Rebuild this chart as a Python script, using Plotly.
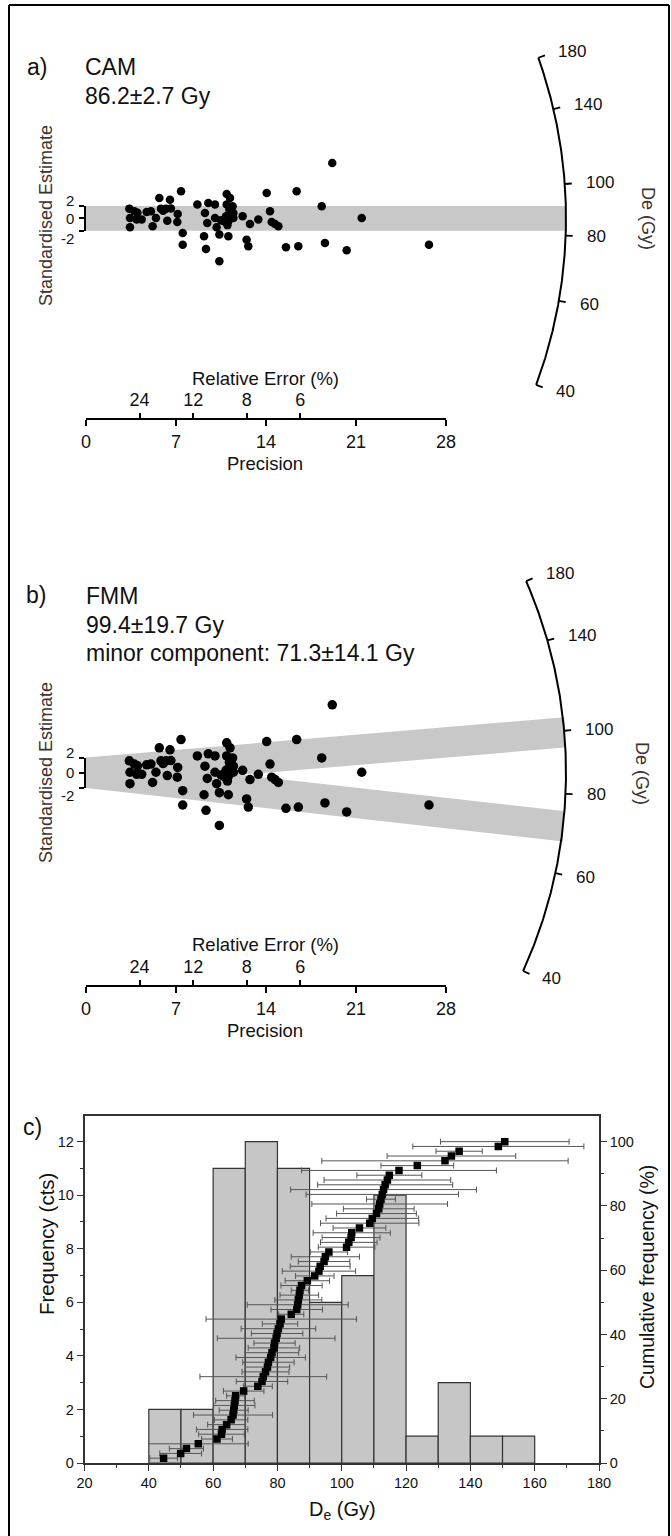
import numpy as np
import plotly.graph_objects as go

W, H = 671, 1536
FONT = "Liberation Sans, Arial, sans-serif"

# ---------------- data ----------------
# Radial plot points (shared by panels a and b): precision and standardised estimate
precision = [3.37, 3.42, 3.42, 3.76, 3.94, 4.33, 4.72, 5.05, 5.18, 5.44,
             5.70, 5.83, 6.22, 6.32, 6.53, 7.13, 7.10, 7.39, 7.52, 7.52,
             8.66, 9.25, 9.18, 9.33, 9.51, 9.43, 10.03, 10.03, 10.16, 10.37,
             10.37, 10.94, 11.07, 11.20, 10.94, 11.15, 10.89, 11.07, 11.40, 11.46,
             11.46, 10.73, 12.18, 12.49, 12.62, 12.75, 13.40, 14.05, 14.31, 14.44,
             14.70, 14.96, 15.55, 16.38, 16.51, 18.33, 18.58, 19.15, 20.27, 21.44,
             26.67, 4.00, 6.00, 6.60, 11.20, 11.00, 10.50]
std_est = [1.56, 0.06, -1.45, 1.13, -0.21, -0.21, 1.03, 1.13, -1.29, 0.06,
           3.28, 1.56, 1.56, -0.38, 3.01, 0.70, -0.59, 4.36, -2.36, -4.25,
           2.21, 0.86, -2.90, -4.95, 2.48, -0.76, 2.21, 0.06, -1.45, -2.63,
           -6.94, 3.93, -2.90, 3.28, 2.21, 1.39, 0.32, -0.48, 1.94, 0.86,
           0.06, -0.48, 0.32, -3.45, -4.52, -0.91, -0.21, 4.09, 1.13, -0.59,
           -0.91, -1.29, -4.68, 4.36, -4.52, 1.94, -3.98, 8.93, -5.16, 0.06,
           -4.25, 0.90, 1.20, 1.60, 0.90, -1.10, -0.30]

cam_central = 86.2
fmm_components = [99.4, 71.3]
de_ticks = [40, 60, 80, 100, 140, 180]
precision_ticks = [0, 7, 14, 21, 28]
rel_error_ticks = [24, 12, 8, 6]
z_ticks = [-2, 0, 2]

# Histogram (panel c)
bin_left = [40, 50, 60, 70, 80, 90, 100, 110, 120, 130, 140, 150]
bin_width = 10
counts = [2, 2, 11, 12, 11, 6, 7, 10, 1, 3, 1, 1]

# Sorted De values and their errors (cumulative frequency)
de_sorted = [44.6, 49.9, 51.7, 55.4, 61.2, 62.6, 62.8, 64.2, 65.6, 66.2,
             66.4, 66.6, 66.8, 67.0, 69.5, 73.9, 75.2, 75.6, 76.3, 76.9,
             77.2, 77.9, 78.3, 78.9, 79.1, 79.6, 79.9, 80.3, 80.8, 81.2,
             84.3, 86.0, 86.3, 86.5, 86.8, 87.0, 87.5, 89.3, 91.6, 92.9,
             93.3, 94.5, 94.9, 96.0, 101.5, 102.2, 102.9, 103.1, 105.5, 108.7,
             109.5, 110.8, 111.5, 111.8, 112.2, 112.6, 113.0, 113.5, 114.2, 114.8,
             117.8, 123.5, 132.1, 134.1, 136.5, 148.7, 150.7]
de_err = [4.3, 6.5, 5.3, 15.5, 4.8, 7.1, 8.0, 5.9, 5.2, 12.3,
          4.5, 6.4, 6.0, 2.8, 6.3, 4.5, 8.0, 19.7, 7.3, 6.9,
          8.0, 10.8, 8.3, 8.0, 6.4, 18.3, 8.0, 11.6, 5.5, 23.4,
          3.9, 8.0, 15.7, 7.3, 6.0, 2.7, 6.4, 6.9, 6.0, 11.4,
          9.3, 8.0, 10.6, 5.8, 8.8, 8.8, 9.0, 12.0, 8.2, 15.3,
          14.4, 12.4, 11.0, 21.1, 4.5, 23.7, 28.9, 21.0, 19.7, 10.1,
          30.3, 11.3, 38.3, 20.0, 7.2, 26.6, 20.0]

# ---------------- layout geometry (pixels) ----------------
PA = dict(ox=86.0, oy=218.3, sx=12.86, sy=6.2, top=0, bottom=505, axis_y=419.3)
PB = dict(ox=86.0, oy=772.7, sx=12.86, sy=7.6, top=515, bottom=1065, axis_y=986.0)
R_ARC = 480.0
C_LEFT, C_RIGHT, C_TOP, C_BOT = 84.5, 599.0, 1116.0, 1463.0
px_per_count = 26.78


def py(p):
    return 1 - p / H


def px(p):
    return p / W


fig = go.Figure()
annotations = []


def txt(text, x, y, size, xanchor="center", angle=0, color="#111", **kw):
    annotations.append(dict(text=text, x=px(x), y=py(y), xref="paper", yref="paper",
                            xanchor=xanchor, yanchor="middle", showarrow=False,
                            textangle=angle, font=dict(size=size, color=color, family=FONT), **kw))


def radial_panel(P, xa, ya, xprec, xre, ybr, bands, msize):
    sx, sy = P["sx"], P["sy"]
    # bands (+-2 around each component line)
    for d in bands:
        s = np.log(d / cam_central)
        th = np.arctan(sy / sx * s)
        pe = R_ARC * np.cos(th) / sx
        fig.add_trace(go.Scatter(x=[0, pe, pe, 0, 0], y=[-2, s * pe - 2, s * pe + 2, 2, -2],
                                 fill="toself", fillcolor="#c8c8c8", mode="lines",
                                 line=dict(width=0, color="#c8c8c8"), hoverinfo="skip",
                                 xaxis=xa, yaxis=ya, showlegend=False))
    # points
    fig.add_trace(go.Scatter(x=precision, y=std_est, mode="markers",
                             marker=dict(color="black", size=msize, symbol="circle",
                                         line=dict(width=0)),
                             xaxis=xa, yaxis=ya, showlegend=False))
    # De arc
    dv = np.geomspace(min(de_ticks), max(de_ticks), 300)
    th = np.arctan(sy / sx * np.log(dv / cam_central))
    fig.add_trace(go.Scatter(x=R_ARC * np.cos(th) / sx, y=R_ARC * np.sin(th) / sy,
                             mode="lines", line=dict(color="black", width=2),
                             xaxis=xa, yaxis=ya, showlegend=False, hoverinfo="skip"))
    tx, ty = [], []
    for d in de_ticks:
        t = np.arctan(sy / sx * np.log(d / cam_central))
        for r in (R_ARC, R_ARC + 7):
            tx.append(r * np.cos(t) / sx)
            ty.append(r * np.sin(t) / sy)
        tx.append(None)
        ty.append(None)
        rl = R_ARC + 19
        annotations.append(dict(text=str(d), x=rl * np.cos(t) / sx, y=rl * np.sin(t) / sy,
                                xref=xa, yref=ya, xanchor="left", yanchor="middle",
                                showarrow=False, font=dict(size=17, color="#111", family=FONT)))
    fig.add_trace(go.Scatter(x=tx, y=ty, mode="lines", line=dict(color="black", width=1.8),
                             xaxis=xa, yaxis=ya, showlegend=False, hoverinfo="skip"))
    # placeholder traces so the drawn axes exist
    for xx, yy in ((xprec, ya), (xre, ya), (xa, ybr)):
        fig.add_trace(go.Scatter(x=[1], y=[0], mode="markers", marker=dict(opacity=0),
                                 xaxis=xx, yaxis=yy, showlegend=False, hoverinfo="skip"))
    # z labels
    for z, sh in zip(z_ticks, (-7.5, 0, 5)):
        annotations.append(dict(text=str(z), x=px(76), xref="paper", y=z, yref=ya,
                                yshift=sh, xanchor="right", yanchor="middle", showarrow=False,
                                font=dict(size=15, color="#111", family=FONT)))


def data_axes(P, anchor_x, anchor_y):
    sx, sy = P["sx"], P["sy"]
    xa = dict(domain=[0, 1], range=[-P["ox"] / sx, (W - P["ox"]) / sx], visible=False,
              fixedrange=True, anchor=anchor_y)
    ya = dict(domain=[py(P["bottom"]), py(P["top"])],
              range=[(P["oy"] - P["bottom"]) / sy, (P["oy"] - P["top"]) / sy],
              visible=False, fixedrange=True, anchor=anchor_x)
    return xa, ya


def prec_axes(P):
    common = dict(domain=[px(P["ox"]), px(P["ox"] + 28 * P["sx"])], range=[0, 28],
                  anchor="free", position=py(P["axis_y"]), showgrid=False, zeroline=False,
                  ticks="outside", ticklen=6, tickwidth=1.5, tickcolor="black",
                  tickfont=dict(size=18, color="#111", family=FONT), automargin=False)
    xp = dict(common, tickvals=precision_ticks, showline=True, linewidth=1.8,
              linecolor="black", side="bottom")
    xr = dict(common, tickvals=[100.0 / r for r in rel_error_ticks],
              ticktext=[str(r) for r in rel_error_ticks], showline=False, side="top")
    return xp, xr


def bracket_axis(P):
    return dict(domain=[py(P["oy"] + 2 * P["sy"]), py(P["oy"] - 2 * P["sy"])],
                range=[-2, 2], anchor="free", position=px(85), side="left",
                tickvals=z_ticks, ticks="outside", ticklen=5, tickwidth=1.5,
                tickcolor="black", showticklabels=False, showline=True, linewidth=1.5,
                linecolor="black", showgrid=False, zeroline=False, automargin=False)


radial_panel(PA, "x", "y", "x4", "x5", "y5", [cam_central], 8.5)
radial_panel(PB, "x2", "y2", "x6", "x7", "y6", fmm_components, 9.5)

xa_a, ya_a = data_axes(PA, "x", "y")
xa_b, ya_b = data_axes(PB, "x2", "y2")
xp_a, xr_a = prec_axes(PA)
xp_b, xr_b = prec_axes(PB)

# ---------------- panel c ----------------
bin_centers = [l + bin_width / 2 for l in bin_left]
fig.add_trace(go.Bar(x=bin_centers, y=counts, width=bin_width,
                     marker=dict(color="#c6c6c6", line=dict(color="#333333", width=1.2)),
                     xaxis="x3", yaxis="y3", showlegend=False))
n = len(de_sorted)
cum_pct = [100.0 * (i + 1) / n for i in range(n)]
fig.add_trace(go.Scatter(x=de_sorted, y=cum_pct, mode="markers",
                         marker=dict(symbol="square", size=7.5, color="black"),
                         error_x=dict(type="data", array=de_err, color="#555555",
                                      thickness=1, width=3),
                         xaxis="x3", yaxis="y4", showlegend=False))

ymax_c = (C_BOT - C_TOP) / px_per_count
axis_c = dict(showgrid=False, zeroline=False, ticks="outside", ticklen=6, tickwidth=1.2,
              tickcolor="#333", showline=True, linewidth=1.5, linecolor="#333",
              tickfont=dict(size=14.5, color="#111", family=FONT), automargin=False,
              fixedrange=True)

fig.update_layout(
    width=W, height=H, autosize=False,
    margin=dict(l=0, r=0, t=0, b=0, pad=0),
    paper_bgcolor="white", plot_bgcolor="rgba(0,0,0,0)",
    showlegend=False,
    font=dict(family=FONT, color="#111"),
    xaxis=xa_a, yaxis=ya_a, xaxis2=xa_b, yaxis2=ya_b,
    xaxis4=xp_a, xaxis5=xr_a, xaxis6=xp_b, xaxis7=xr_b,
    yaxis5=bracket_axis(PA), yaxis6=bracket_axis(PB),
    xaxis3=dict(axis_c, domain=[px(C_LEFT), px(C_RIGHT)], range=[20, 180], anchor="y3",
                tickvals=list(range(20, 181, 20)), mirror=True,
                minor=dict(ticks="outside", ticklen=3, dtick=10, tick0=0, tickcolor="#333")),
    yaxis3=dict(axis_c, domain=[py(C_BOT), py(C_TOP)], range=[0, ymax_c], anchor="x3",
                tickvals=list(range(0, 13, 2)), mirror=True,
                minor=dict(ticks="outside", ticklen=3, dtick=1, tick0=0, tickcolor="#333")),
    yaxis4=dict(axis_c, overlaying="y3", anchor="x3", side="right",
                range=[0, ymax_c / 12 * 100], tickvals=list(range(0, 101, 20)),
                minor=dict(ticks="outside", ticklen=3, dtick=10, tick0=0, tickcolor="#333")),
)

# ---------------- texts ----------------
# panel a
txt("a)", 37, 66.7, 23)
txt("CAM", 83.4, 66.7, 23, xanchor="left")
txt("86.2±2.7 Gy", 83.4, 96, 23, xanchor="left")
txt("Standardised Estimate", 46, 216, 18, angle=-90, color="#3d3330")
txt("De (Gy)", 648, 218, 18, angle=90, color="#3d3330")
txt("Relative Error (%)", 265, 378.3, 18.5)
txt("Precision", 265, 463.3, 18.5)
# panel b
txt("b)", 36, 595, 23)
txt("FMM", 84, 596, 23, xanchor="left")
txt("99.4±19.7 Gy", 84, 625, 23, xanchor="left")
txt("minor component: 71.3±14.1 Gy", 84, 653, 23, xanchor="left")
txt("Standardised Estimate", 46, 773, 18, angle=-90, color="#3d3330")
txt("De (Gy)", 642, 773, 18, angle=90, color="#3d3330")
txt("Relative Error (%)", 265, 944, 18.5)
txt("Precision", 265, 1030, 18.5)
# panel c
txt("c)", 32, 1127, 23)
txt("Frequency (cts)", 46, 1244, 20.5, angle=-90)
txt("Cumulative frequency (%)", 647, 1277, 19.5, angle=-90)
txt("D<sub>e</sub> (Gy)", 342, 1510, 20)

fig.update_layout(annotations=annotations)

# outer frame
for x0, y0, x1, y1 in ((9, 5, 669, 5), (9, 5, 9, H), (669, 5, 669, H)):
    fig.add_shape(type="line", xref="paper", yref="paper", x0=px(x0), y0=py(y0),
                  x1=px(x1), y1=py(y1), line=dict(color="black", width=2))

fig.write_html("out.html", config={"displayModeBar": False},
               post_script="document.body.style.margin='0';"
                           "document.body.style.overflow='hidden';")
